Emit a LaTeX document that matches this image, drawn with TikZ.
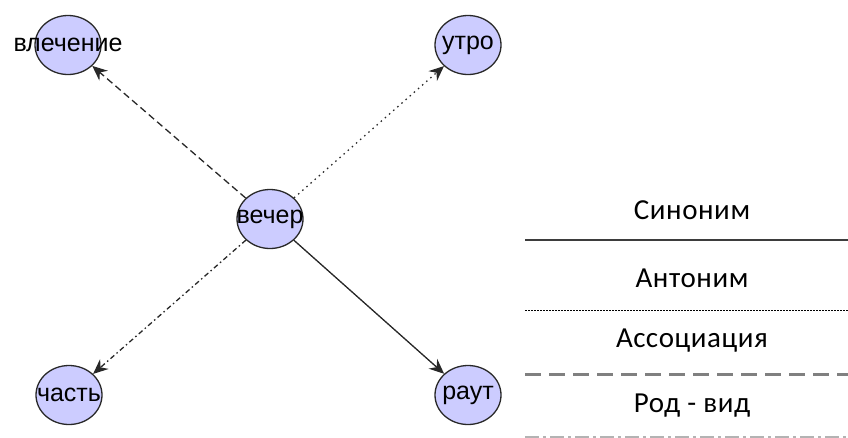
\documentclass[tikz,border=0pt]{standalone}
\usepackage{fontspec}
\newfontfamily\nodefont{Liberation Sans}
\newfontfamily\legendfont[LetterSpace=2]{Carlito}
\usetikzlibrary{arrows.meta,shapes.geometric}
\definecolor{nodefill}{RGB}{204,204,255}
\definecolor{rim}{RGB}{40,40,40}
\definecolor{legendgray}{RGB}{128,128,128}
% label that may run past the rim of its node
\newcommand\spill[1]{\makebox[0pt]{#1}}
\tikzset{
  word/.style={ellipse, draw=rim, line width=1.3pt, fill=nodefill,
    minimum width=66pt, minimum height=59pt, inner sep=0pt,
    font=\nodefont\fontsize{25}{25}\selectfont, text=black},
  rel/.style={line width=1.3pt, draw=rim,
    -{Stealth[length=15pt,width=13pt,inset=5pt]}},
  caption/.style={font=\legendfont\fontsize{29}{29}\selectfont, text=black}
}
\begin{document}
\begin{tikzpicture}[x=1pt,y=-1pt]
  \useasboundingbox (0,0) rectangle (848,437);
  % word nodes
  \node[word] (center) at (270,219) {\spill{вечер}};
  \node[word] (attr)   at (68,45)   {\spill{влечение}};
  \node[word] (morn)   at (468,45)  {\spill{утро}};
  \node[word] (part)   at (69,395)  {\spill{часть}};
  \node[word] (party)  at (468,395) {\spill{раут}};
  % relations
  \draw[rel, dash pattern=on 7pt off 4pt] (center) -- (attr);
  \draw[rel, dash pattern=on 1.5pt off 4pt] (center) -- (morn);
  \draw[rel, dash pattern=on 5pt off 3pt on 1.5pt off 3pt] (center) -- (part);
  \draw[rel] (center) -- (party);
  % legend
  \coordinate (l1a) at (525,240); \coordinate (l1b) at (848,240);
  \coordinate (l2a) at (525,310); \coordinate (l2b) at (848,310);
  \coordinate (l3a) at (525,374); \coordinate (l3b) at (848,374);
  \coordinate (l4a) at (525,437); \coordinate (l4b) at (848,437);
  \node[caption] (syn)  at (692,210) {Синоним};
  \node[caption] (ant)  at (692,278) {Антоним};
  \node[caption] (assoc) at (692,341) {Ассоциация};
  \node[caption] (gen)  at (692,406) {Род - вид};
  \draw[line width=1.8pt, draw=rim!90] (l1a) -- (l1b);
  \draw[line width=0.8pt, dash pattern=on 1.5pt off 1.5pt] (l2a) -- (l2b);
  \draw[line width=3pt, draw=legendgray, dash pattern=on 16pt off 8pt] (l3a) -- (l3b);
  \draw[line width=3pt, draw=legendgray!60, dash pattern=on 14pt off 4pt on 3pt off 4pt] (l4a) -- (l4b);
\end{tikzpicture}
\end{document}
